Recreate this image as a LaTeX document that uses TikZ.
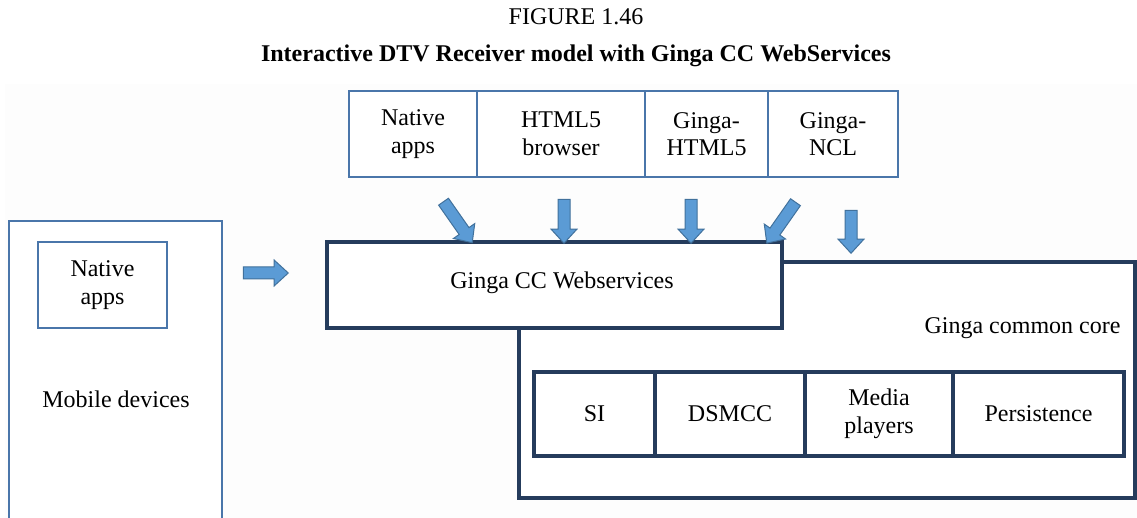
\documentclass[tikz,border=0pt]{standalone}
\usepackage{fontspec}
\setmainfont{Liberation Serif}
\usetikzlibrary{shapes.arrows}
\definecolor{lblue}{RGB}{74,118,170}
\definecolor{navy}{RGB}{37,60,92}
\definecolor{afill}{RGB}{91,155,213}
\definecolor{aline}{RGB}{65,113,156}
\definecolor{bgc}{RGB}{253,253,253}
\begin{document}
\begin{tikzpicture}[x=1pt,y=-1pt,
  every node/.style={font=\fontsize{24}{27.5}\selectfont, align=center},
  thinbox/.style={draw=lblue, line width=2.2pt, fill=white, inner sep=0pt},
  thickbox/.style={draw=navy, line width=4pt, fill=white, inner sep=0pt},
  blockarrow/.style={single arrow, draw=aline, fill=afill, line width=1pt,
    inner sep=5.5pt, single arrow head extend=7pt, single arrow tip angle=85,
    minimum height=#1},
  ]
\useasboundingbox (0,0) rectangle (1137,518);
\fill[bgc] (5,84) rectangle (1137,518);

% titles
\node (fig) at (576,17) {FIGURE 1.46};
\node[font=\fontsize{24}{27.5}\selectfont\bfseries] (title) at (576,56)
  {Interactive DTV Receiver model with Ginga CC WebServices};

% top row
\node[thinbox, minimum width=128, minimum height=86] (tnative) at (413,134) {Native\\apps};
\node[thinbox, minimum width=168, minimum height=86] (thtml) at (561,134) {HTML5\\browser};
\node[thinbox, minimum width=123, minimum height=86] (tghtml) at (706.5,134) {Ginga-\\HTML5};
\node[thinbox, minimum width=130, minimum height=86] (tgncl) at (833,134) {Ginga-\\NCL};

% mobile devices
\node[thinbox, line width=2pt, minimum width=213, minimum height=318] (mobile) at (115.5,380) {};
\node[thinbox, line width=2pt, minimum width=129, minimum height=86] (mnative) at (102.5,285) {Native\\apps};
\node (mlabel) at (116,399) {Mobile devices};

% common core
\node[thickbox, minimum width=616, minimum height=236] (core) at (827,380) {};
\node[anchor=east] (corelbl) at (1124,328) {Ginga common core};
\node[thickbox, minimum width=455, minimum height=86] (ws) at (554.5,285) {};
\node (wslbl) at (562,283) {Ginga CC Webservices};

\node[thickbox, minimum width=121, minimum height=84] (si) at (594.5,414) {SI};
\node[thickbox, minimum width=150, minimum height=84] (dsmcc) at (730,414) {DSMCC};
\node[thickbox, minimum width=148, minimum height=84] (media) at (879,414) {Media\\players};
\node[thickbox, minimum width=171, minimum height=84] (pers) at (1038.5,414) {Persistence};

% block arrows
\node[blockarrow=45] (aright) at (262.5,273) {};
\node[blockarrow=50, rotate=-55] (a1) at (456,219.5) {};
\node[blockarrow=44, rotate=-90] (a2) at (564,218) {};
\node[blockarrow=44, rotate=-90] (a3) at (691,218) {};
\node[blockarrow=50, rotate=-125] (a4) at (783,220) {};
\node[blockarrow=43, rotate=-90] (a5) at (851,228.5) {};
\end{tikzpicture}
\end{document}
